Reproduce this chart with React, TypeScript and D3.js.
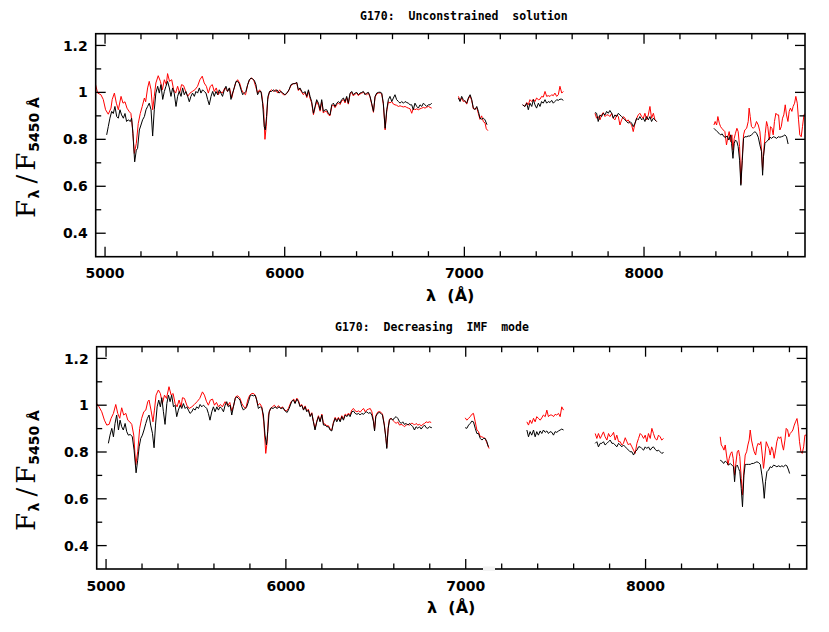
import * as d3 from 'd3'
import { useEffect, useRef } from 'react'

type Pt = [number, number]

const topObserved: Pt[][] = [
  [[5009,0.819],[5018,0.854],[5027,0.89],[5037,0.919],[5046,0.91],[5055,0.94],[5065,0.897],[5074,0.89],[5083,0.926],[5092,0.904],[5102,0.89],[5111,0.91],[5120,0.876],[5129,0.883],[5141,0.876],[5148,0.89],[5155,0.826],[5165,0.704],[5174,0.754],[5181,0.761],[5191,0.84],[5200,0.861],[5209,0.883],[5219,0.897],[5228,0.926],[5237,0.94],[5246,0.954],[5256,0.926],[5265,0.814],[5274,0.926],[5283,0.997],[5293,1.026],[5302,0.997],[5311,1.033],[5321,0.97],[5330,1.004],[5339,1.026],[5348,1.047],[5358,1.019],[5367,0.983],[5376,1.019],[5385,0.997],[5395,0.94],[5404,0.983],[5413,1.004],[5423,0.983],[5432,1.019],[5441,0.99],[5450,1.004],[5460,0.983],[5469,0.96],[5478,0.983],[5487,0.997],[5497,0.983],[5506,1.004],[5515,0.997],[5525,1.019],[5534,0.997],[5543,1.011],[5552,1.004],[5562,0.997],[5571,0.97],[5580,0.947],[5590,0.983],[5599,1.004],[5608,0.983],[5617,1.004],[5627,0.99],[5636,1.011],[5645,0.997],[5654,0.983],[5664,1.011],[5673,1.026],[5682,1.004],[5692,1.019],[5701,0.97],[5710,0.997],[5719,1.019],[5729,1.047],[5738,1.047],[5747,1.037],[5757,1.011],[5766,0.99],[5775,0.997],[5784,1.004],[5794,1.033],[5803,1.054],[5812,1.061],[5821,1.057],[5831,1.051],[5840,1.033],[5849,0.99],[5859,1.004],[5868,1.004],[5877,0.954],[5886,0.854],[5892,0.84],[5899,0.897],[5907,0.983],[5916,1.004],[5927,1.004],[5936,1.011],[5946,1.004],[5957,1.011],[5968,0.997],[5979,1.004],[5990,0.997],[6001,0.99],[6012,0.997],[6024,1.011],[6035,1.033],[6046,1.037],[6058,1.037],[6067,1.043],[6076,1.011],[6085,1.019],[6095,1.004],[6104,0.997],[6113,1.004],[6123,0.983],[6132,1.011],[6141,0.983],[6150,0.961],[6160,0.911],[6169,0.94],[6178,0.969],[6188,0.954],[6197,0.926],[6206,0.969],[6215,0.919],[6225,0.926],[6234,0.926],[6243,0.911],[6252,0.904],[6262,0.947],[6271,0.954],[6280,0.94],[6290,0.954],[6299,0.961],[6308,0.954],[6317,0.969],[6327,0.976],[6336,0.961],[6345,0.983],[6354,0.954],[6364,0.997],[6373,1.004],[6382,0.99],[6392,0.997],[6401,1.0],[6410,0.99],[6419,0.997],[6429,1.0],[6438,1.004],[6447,0.99],[6456,0.997],[6466,1.0],[6475,0.983],[6484,0.954],[6494,0.919],[6503,0.983],[6512,0.997],[6521,1.0],[6531,1.001],[6540,0.997],[6549,0.954],[6559,0.847],[6568,0.926],[6577,0.969],[6586,0.983],[6596,0.961],[6605,0.976],[6614,0.99],[6623,0.969],[6633,0.961],[6642,0.954],[6651,0.961],[6661,0.954],[6670,0.961],[6679,0.957],[6688,0.954],[6698,0.947],[6707,0.947],[6716,0.926],[6725,0.954],[6735,0.94],[6744,0.933],[6753,0.947],[6763,0.94],[6772,0.954],[6781,0.947],[6790,0.94],[6800,0.947],[6809,0.947],[6818,0.954]],
  [[6967,0.976],[6976,0.961],[6985,0.983],[6994,0.969],[7004,0.961],[7013,0.954],[7022,0.976],[7032,0.99],[7041,0.969],[7050,0.933],[7059,0.926],[7069,0.94],[7078,0.919],[7087,0.89],[7096,0.886],[7106,0.89],[7115,0.883],[7126,0.862]],
  [[7324,0.947],[7337,0.94],[7347,0.954],[7356,0.926],[7365,0.954],[7375,0.94],[7384,0.969],[7393,0.947],[7402,0.933],[7412,0.954],[7421,0.94],[7430,0.961],[7439,0.954],[7449,0.969],[7458,0.954],[7467,0.961],[7477,0.957],[7486,0.966],[7495,0.954],[7504,0.961],[7514,0.969],[7523,0.966],[7532,0.971],[7542,0.971],[7551,0.966]],
  [[7727,0.914],[7736,0.911],[7745,0.876],[7755,0.904],[7764,0.897],[7773,0.911],[7783,0.904],[7792,0.919],[7801,0.911],[7810,0.923],[7820,0.911],[7829,0.89],[7838,0.904],[7848,0.897],[7857,0.911],[7866,0.904],[7875,0.897],[7885,0.89],[7894,0.883],[7903,0.876],[7912,0.869],[7922,0.876],[7931,0.869],[7940,0.854],[7950,0.869],[7959,0.89],[7968,0.883],[7977,0.897],[7987,0.883],[7996,0.89],[8005,0.876],[8014,0.897],[8024,0.883],[8033,0.897],[8042,0.876],[8052,0.89],[8061,0.883],[8070,0.876]],
  [[8389,0.847],[8398,0.84],[8407,0.833],[8417,0.826],[8426,0.819],[8435,0.823],[8445,0.811],[8454,0.809],[8463,0.814],[8472,0.797],[8482,0.819],[8487,0.783],[8495,0.719],[8502,0.783],[8509,0.797],[8517,0.79],[8524,0.769],[8532,0.711],[8539,0.604],[8547,0.711],[8554,0.804],[8561,0.811],[8571,0.811],[8580,0.814],[8589,0.814],[8598,0.819],[8608,0.826],[8617,0.833],[8626,0.826],[8636,0.809],[8645,0.776],[8654,0.747],[8660,0.647],[8665,0.726],[8673,0.783],[8682,0.79],[8691,0.797],[8701,0.809],[8710,0.804],[8719,0.811],[8728,0.809],[8738,0.804],[8747,0.811],[8756,0.809],[8765,0.811],[8775,0.814],[8784,0.819],[8793,0.811],[8802,0.78]],
]

const topModel: Pt[][] = [
  [[4944,1.043],[4959,0.997],[4977,0.99],[4990,0.97],[5003,0.926],[5018,0.907],[5033,0.933],[5040,0.97],[5052,0.997],[5063,0.954],[5074,0.926],[5089,0.983],[5100,0.954],[5111,0.96],[5122,0.933],[5133,0.92],[5144,0.91],[5154,0.84],[5163,0.74],[5174,0.783],[5185,0.868],[5196,0.91],[5207,0.94],[5219,0.976],[5226,0.96],[5237,1.019],[5246,1.047],[5256,1.011],[5265,0.926],[5274,0.983],[5283,1.04],[5296,1.071],[5308,1.047],[5319,1.011],[5330,1.054],[5341,1.033],[5348,1.08],[5359,1.047],[5371,1.054],[5382,1.011],[5393,0.997],[5404,1.026],[5415,0.997],[5426,1.033],[5437,1.029],[5449,1.004],[5460,0.983],[5473,0.997],[5486,1.004],[5500,1.011],[5515,1.026],[5528,1.054],[5541,1.069],[5552,1.04],[5564,1.026],[5575,0.997],[5586,1.026],[5597,1.033],[5608,1.004],[5619,1.019],[5630,0.99],[5641,1.004],[5653,0.997],[5667,1.019],[5682,1.004],[5693,1.019],[5705,0.976],[5716,1.011],[5727,1.04],[5738,1.054],[5749,1.04],[5760,1.011],[5771,0.997],[5782,0.99],[5794,1.033],[5805,1.054],[5816,1.061],[5827,1.054],[5838,1.026],[5849,0.997],[5860,1.011],[5871,0.997],[5883,0.926],[5890,0.8],[5897,0.854],[5905,0.97],[5916,1.004],[5927,1.011],[5938,1.004],[5949,1.011],[5961,0.997],[5972,1.011],[5983,0.997],[5994,0.99],[6005,0.99],[6020,1.004],[6035,1.029],[6048,1.037],[6067,1.04],[6076,1.008],[6085,1.015],[6095,1.0],[6104,0.99],[6113,1.0],[6123,0.978],[6132,1.005],[6141,0.975],[6150,0.955],[6160,0.905],[6169,0.935],[6178,0.962],[6188,0.945],[6197,0.92],[6206,0.96],[6215,0.912],[6225,0.92],[6234,0.918],[6243,0.905],[6252,0.9],[6262,0.94],[6271,0.947],[6280,0.935],[6290,0.948],[6299,0.955],[6308,0.948],[6317,0.963],[6327,0.97],[6336,0.955],[6345,0.978],[6354,0.95],[6364,0.992],[6373,1.0],[6382,0.985],[6392,0.993],[6401,0.997],[6410,0.986],[6419,0.993],[6429,0.997],[6438,1.0],[6456,0.99],[6466,0.997],[6475,0.98],[6484,0.95],[6494,0.915],[6503,0.98],[6512,0.993],[6521,0.997],[6531,0.998],[6540,0.993],[6549,0.95],[6559,0.84],[6568,0.92],[6577,0.96],[6586,0.955],[6596,0.961],[6605,0.95],[6614,0.947],[6623,0.945],[6633,0.94],[6642,0.943],[6651,0.94],[6661,0.938],[6670,0.94],[6679,0.936],[6688,0.933],[6698,0.93],[6707,0.911],[6716,0.933],[6725,0.926],[6735,0.93],[6744,0.926],[6753,0.93],[6763,0.933],[6772,0.936],[6781,0.933],[6790,0.937],[6800,0.94],[6809,0.936],[6818,0.933]],
  [[6967,0.983],[6976,0.965],[6985,0.976],[6994,0.961],[7004,0.965],[7013,0.95],[7022,0.972],[7032,0.985],[7041,0.965],[7050,0.93],[7059,0.93],[7069,0.935],[7078,0.91],[7087,0.885],[7096,0.9],[7106,0.875],[7115,0.87],[7122,0.845],[7131,0.837]],
  [[7324,0.947],[7337,0.94],[7347,0.957],[7356,0.947],[7365,0.969],[7375,0.961],[7384,0.971],[7393,0.961],[7402,0.976],[7412,0.969],[7421,0.971],[7430,0.983],[7439,0.98],[7449,1.004],[7458,0.983],[7467,0.986],[7477,0.983],[7486,0.99],[7495,0.986],[7504,0.997],[7514,0.983],[7523,0.99],[7532,1.026],[7542,0.997],[7551,1.004]],
  [[7727,0.911],[7736,0.89],[7745,0.897],[7755,0.883],[7764,0.904],[7773,0.914],[7783,0.897],[7792,0.904],[7801,0.904],[7810,0.897],[7820,0.911],[7829,0.89],[7838,0.883],[7848,0.904],[7857,0.897],[7866,0.861],[7875,0.883],[7885,0.897],[7894,0.89],[7903,0.876],[7912,0.883],[7922,0.869],[7931,0.861],[7940,0.833],[7950,0.869],[7959,0.89],[7968,0.904],[7977,0.911],[7987,0.897],[7996,0.89],[8005,0.911],[8014,0.883],[8024,0.904],[8033,0.94],[8042,0.89],[8052,0.911],[8061,0.883],[8070,0.876]],
  [[8389,0.861],[8396,0.876],[8404,0.861],[8411,0.897],[8419,0.869],[8426,0.854],[8433,0.847],[8441,0.84],[8450,0.833],[8459,0.776],[8467,0.811],[8474,0.833],[8482,0.79],[8489,0.819],[8495,0.754],[8502,0.804],[8509,0.826],[8517,0.847],[8524,0.833],[8532,0.769],[8539,0.611],[8547,0.726],[8554,0.819],[8561,0.84],[8571,0.847],[8580,0.876],[8585,0.933],[8591,0.897],[8598,0.854],[8608,0.847],[8617,0.854],[8626,0.876],[8636,0.861],[8645,0.833],[8654,0.754],[8660,0.669],[8667,0.754],[8675,0.826],[8682,0.876],[8689,0.854],[8697,0.797],[8704,0.854],[8712,0.847],[8719,0.819],[8726,0.876],[8734,0.911],[8741,0.904],[8749,0.904],[8756,0.84],[8764,0.854],[8771,0.89],[8778,0.904],[8786,0.947],[8793,0.904],[8801,0.876],[8808,0.919],[8815,0.933],[8823,0.919],[8830,0.94],[8838,0.954],[8845,0.983],[8853,0.954],[8860,0.883],[8867,0.819],[8875,0.811],[8882,0.854],[8890,0.904],[8898,0.911]],
]

const bottomObserved: Pt[][] = [
  [[5013,0.837],[5022,0.872],[5032,0.901],[5041,0.865],[5050,0.922],[5059,0.958],[5069,0.894],[5078,0.936],[5087,0.908],[5096,0.894],[5106,0.922],[5115,0.887],[5124,0.872],[5135,0.875],[5146,0.865],[5156,0.808],[5167,0.711],[5176,0.765],[5184,0.822],[5193,0.858],[5202,0.872],[5211,0.894],[5221,0.922],[5230,0.944],[5239,0.958],[5248,0.915],[5258,0.88],[5267,0.818],[5275,0.915],[5284,0.993],[5293,1.022],[5302,0.993],[5310,1.032],[5319,0.972],[5328,0.918],[5338,1.007],[5347,1.043],[5356,1.015],[5365,1.043],[5375,0.993],[5384,1.0],[5393,0.951],[5402,0.979],[5412,1.0],[5421,0.986],[5430,1.007],[5440,0.986],[5449,0.993],[5458,0.979],[5467,0.965],[5477,0.972],[5486,0.986],[5495,0.979],[5504,0.993],[5514,0.986],[5523,1.003],[5532,0.993],[5541,1.0],[5551,0.993],[5560,0.986],[5569,0.965],[5578,0.936],[5588,0.972],[5597,0.993],[5606,0.972],[5616,0.993],[5625,0.979],[5634,0.993],[5643,0.986],[5653,0.972],[5662,1.0],[5671,1.015],[5680,0.993],[5690,1.0],[5699,0.958],[5708,0.993],[5718,1.029],[5727,1.036],[5736,1.029],[5745,1.022],[5755,0.993],[5764,0.979],[5773,0.986],[5782,0.993],[5792,1.015],[5801,1.04],[5810,1.043],[5820,1.04],[5829,1.043],[5838,1.022],[5847,0.986],[5857,0.993],[5866,0.989],[5875,0.958],[5884,0.872],[5892,0.83],[5899,0.887],[5907,0.972],[5918,0.989],[5929,0.986],[5940,0.993],[5951,0.986],[5962,0.993],[5973,0.986],[5985,0.989],[5996,0.975],[6007,0.969],[6018,0.986],[6033,1.017],[6042,1.022],[6051,1.007],[6061,1.026],[6070,1.015],[6079,0.993],[6088,1.0],[6098,0.979],[6107,0.993],[6116,0.972],[6125,0.979],[6135,0.951],[6144,0.965],[6153,0.929],[6162,0.894],[6172,0.929],[6181,0.951],[6190,0.929],[6200,0.958],[6209,0.915],[6218,0.915],[6227,0.908],[6237,0.908],[6246,0.894],[6255,0.89],[6264,0.922],[6274,0.944],[6283,0.929],[6292,0.944],[6302,0.929],[6311,0.951],[6320,0.936],[6330,0.958],[6339,0.951],[6348,0.961],[6357,0.951],[6367,0.972],[6376,0.975],[6385,0.965],[6395,0.961],[6404,0.965],[6413,0.958],[6422,0.965],[6432,0.961],[6441,0.969],[6450,0.972],[6459,0.965],[6469,0.969],[6478,0.958],[6487,0.929],[6493,0.89],[6500,0.951],[6510,0.965],[6519,0.969],[6528,0.965],[6537,0.958],[6547,0.915],[6556,0.858],[6561,0.815],[6569,0.901],[6576,0.936],[6585,0.944],[6594,0.936],[6604,0.946],[6613,0.951],[6622,0.944],[6632,0.929],[6641,0.922],[6650,0.929],[6659,0.918],[6669,0.922],[6678,0.915],[6687,0.922],[6697,0.915],[6706,0.908],[6715,0.894],[6724,0.908],[6734,0.901],[6743,0.908],[6752,0.898],[6762,0.908],[6771,0.915],[6780,0.904],[6789,0.901],[6799,0.908],[6808,0.904],[6812,0.905]],
  [[6997,0.904],[7006,0.901],[7016,0.915],[7025,0.922],[7034,0.932],[7043,0.929],[7053,0.901],[7062,0.879],[7071,0.879],[7081,0.858],[7090,0.851],[7099,0.858],[7108,0.858],[7117,0.845],[7126,0.822]],
  [[7340,0.894],[7349,0.865],[7358,0.887],[7367,0.872],[7377,0.894],[7386,0.865],[7395,0.887],[7404,0.872],[7414,0.89],[7423,0.879],[7432,0.894],[7442,0.884],[7451,0.89],[7460,0.879],[7469,0.887],[7479,0.884],[7488,0.872],[7497,0.887],[7506,0.884],[7516,0.89],[7525,0.894],[7534,0.898],[7544,0.894]],
  [[7720,0.837],[7729,0.844],[7738,0.822],[7748,0.837],[7757,0.837],[7766,0.844],[7775,0.83],[7785,0.837],[7794,0.844],[7803,0.851],[7813,0.837],[7822,0.837],[7831,0.83],[7840,0.822],[7850,0.837],[7859,0.83],[7868,0.822],[7877,0.83],[7887,0.822],[7896,0.815],[7905,0.808],[7914,0.801],[7924,0.801],[7933,0.787],[7942,0.801],[7952,0.808],[7961,0.822],[7970,0.822],[7979,0.815],[7989,0.808],[7998,0.822],[8007,0.815],[8016,0.822],[8026,0.808],[8035,0.818],[8044,0.822],[8053,0.812],[8063,0.804],[8072,0.808],[8081,0.801],[8090,0.794],[8100,0.798]],
  [[8415,0.765],[8424,0.761],[8434,0.751],[8443,0.761],[8452,0.755],[8461,0.744],[8471,0.751],[8480,0.744],[8489,0.737],[8495,0.673],[8502,0.737],[8510,0.744],[8517,0.73],[8524,0.716],[8532,0.644],[8539,0.566],[8547,0.701],[8554,0.747],[8563,0.747],[8573,0.747],[8582,0.747],[8591,0.751],[8600,0.751],[8610,0.755],[8619,0.758],[8628,0.755],[8638,0.747],[8647,0.701],[8654,0.659],[8660,0.602],[8667,0.673],[8675,0.716],[8684,0.723],[8693,0.737],[8702,0.733],[8712,0.744],[8721,0.741],[8730,0.737],[8740,0.741],[8749,0.737],[8758,0.741],[8767,0.737],[8777,0.744],[8786,0.741],[8795,0.723],[8801,0.708]],
]

const bottomModel: Pt[][] = [
  [[4939,1.057],[4948,1.007],[4961,0.993],[4976,0.972],[4991,0.936],[5004,0.915],[5017,0.918],[5028,0.944],[5041,0.965],[5054,1.003],[5065,0.965],[5076,0.944],[5087,0.989],[5098,0.958],[5110,0.965],[5121,0.936],[5132,0.929],[5143,0.918],[5154,0.872],[5165,0.744],[5176,0.801],[5187,0.901],[5198,0.944],[5210,0.972],[5221,0.979],[5232,1.015],[5239,1.022],[5250,0.979],[5261,0.929],[5269,0.979],[5278,1.043],[5291,1.065],[5302,1.05],[5313,1.007],[5325,1.043],[5336,1.029],[5350,1.079],[5362,1.043],[5373,1.05],[5384,1.007],[5395,0.993],[5406,1.022],[5417,0.993],[5425,1.032],[5436,1.029],[5449,1.0],[5462,0.986],[5477,0.993],[5491,1.003],[5506,1.015],[5521,1.029],[5536,1.057],[5547,1.043],[5558,1.017],[5569,1.0],[5580,1.022],[5592,1.026],[5603,1.0],[5614,1.012],[5625,0.993],[5636,1.003],[5647,0.993],[5662,1.015],[5677,0.998],[5688,1.012],[5699,0.975],[5710,1.0],[5721,1.036],[5732,1.04],[5743,1.032],[5755,1.007],[5766,0.993],[5777,0.986],[5788,1.022],[5799,1.043],[5810,1.05],[5821,1.05],[5833,1.036],[5844,1.0],[5855,1.007],[5866,0.993],[5877,0.929],[5888,0.794],[5896,0.844],[5903,0.958],[5914,0.986],[5925,0.993],[5936,1.0],[5947,0.989],[5959,0.998],[5970,0.986],[5981,0.993],[5992,0.979],[6003,0.975],[6014,0.986],[6029,1.015],[6044,1.026],[6051,1.01],[6061,1.03],[6070,1.02],[6079,0.997],[6088,1.003],[6098,0.983],[6107,0.997],[6116,0.975],[6125,0.983],[6135,0.955],[6144,0.968],[6153,0.932],[6162,0.9],[6172,0.932],[6181,0.955],[6190,0.932],[6200,0.962],[6209,0.92],[6218,0.92],[6227,0.912],[6237,0.912],[6246,0.898],[6255,0.893],[6264,0.926],[6274,0.948],[6283,0.935],[6292,0.948],[6302,0.935],[6311,0.955],[6320,0.942],[6330,0.962],[6339,0.956],[6348,0.966],[6357,0.958],[6367,0.98],[6376,0.986],[6385,0.976],[6395,0.972],[6404,0.976],[6413,0.97],[6422,0.979],[6432,0.986],[6441,0.972],[6450,0.98],[6459,0.983],[6469,0.986],[6478,0.972],[6487,0.935],[6493,0.895],[6500,0.955],[6510,0.97],[6519,0.973],[6528,0.97],[6537,0.962],[6547,0.92],[6556,0.862],[6561,0.82],[6569,0.905],[6576,0.94],[6585,0.944],[6594,0.936],[6604,0.929],[6613,0.922],[6622,0.929],[6632,0.915],[6641,0.918],[6650,0.915],[6659,0.908],[6669,0.915],[6678,0.918],[6687,0.915],[6697,0.922],[6706,0.922],[6715,0.915],[6724,0.922],[6734,0.915],[6743,0.918],[6752,0.912],[6762,0.918],[6771,0.922],[6780,0.929],[6789,0.926],[6799,0.929],[6808,0.926]],
  [[6997,0.946],[7006,0.936],[7016,0.944],[7025,0.951],[7034,0.961],[7043,0.965],[7053,0.929],[7062,0.894],[7071,0.887],[7081,0.865],[7090,0.865],[7099,0.861],[7108,0.858],[7117,0.84],[7130,0.815]],
  [[7340,0.929],[7349,0.915],[7358,0.936],[7367,0.922],[7377,0.944],[7386,0.929],[7395,0.951],[7404,0.944],[7414,0.936],[7423,0.946],[7432,0.958],[7442,0.951],[7451,0.979],[7460,0.951],[7469,0.958],[7479,0.958],[7488,0.951],[7497,0.961],[7506,0.958],[7516,0.965],[7525,0.951],[7534,0.993],[7544,0.979]],
  [[7720,0.879],[7729,0.858],[7738,0.879],[7748,0.858],[7757,0.872],[7766,0.886],[7775,0.865],[7785,0.851],[7794,0.879],[7803,0.865],[7813,0.872],[7822,0.884],[7831,0.851],[7840,0.872],[7850,0.844],[7859,0.844],[7868,0.83],[7877,0.837],[7887,0.861],[7896,0.844],[7905,0.83],[7914,0.837],[7924,0.822],[7933,0.808],[7942,0.794],[7952,0.837],[7961,0.858],[7970,0.879],[7979,0.872],[7989,0.858],[7998,0.872],[8007,0.844],[8016,0.879],[8026,0.858],[8035,0.901],[8044,0.879],[8053,0.858],[8063,0.851],[8072,0.872],[8081,0.865],[8090,0.851],[8100,0.858]],
  [[8415,0.865],[8421,0.83],[8428,0.822],[8436,0.808],[8443,0.83],[8450,0.787],[8458,0.744],[8465,0.773],[8473,0.794],[8480,0.801],[8487,0.773],[8495,0.701],[8502,0.751],[8510,0.801],[8517,0.808],[8524,0.78],[8532,0.687],[8539,0.616],[8547,0.723],[8554,0.787],[8562,0.801],[8569,0.83],[8576,0.851],[8582,0.894],[8589,0.851],[8597,0.822],[8604,0.801],[8612,0.787],[8619,0.822],[8626,0.837],[8634,0.83],[8641,0.844],[8649,0.787],[8656,0.73],[8664,0.787],[8671,0.844],[8678,0.83],[8686,0.815],[8693,0.787],[8701,0.822],[8708,0.808],[8715,0.773],[8723,0.808],[8730,0.844],[8738,0.865],[8745,0.858],[8752,0.865],[8760,0.83],[8767,0.808],[8775,0.851],[8782,0.901],[8790,0.894],[8797,0.865],[8804,0.879],[8812,0.886],[8819,0.894],[8827,0.915],[8834,0.929],[8842,0.943],[8849,0.908],[8856,0.844],[8864,0.801],[8871,0.794],[8879,0.822],[8886,0.872],[8893,0.872],[8900,0.869]],
]

const panelTitles = ['G170:  Unconstrained  solution', 'G170:  Decreasing  IMF  mode']
const xMajorTicks = [5000, 6000, 7000, 8000]
const yMajorTicks = [0.4, 0.6, 0.8, 1, 1.2]
const xDomain: [number, number] = [4948, 8896]
const yDomain: [number, number] = [0.3, 1.25]

const layout = [
  { left: 95.7, top: 33.7, width: 709.3, height: 223, titleX: 360, titleY: 20 },
  { left: 96.7, top: 346.7, width: 710, height: 222.3, titleX: 335, titleY: 331 },
]

const tickFont = '"DejaVu Sans", sans-serif'

export default function App() {
  const svgRef = useRef<SVGSVGElement>(null)

  useEffect(() => {
    const svg = d3.select(svgRef.current)
    svg.selectAll('*').remove()
    const series = [
      { observed: topObserved, model: topModel },
      { observed: bottomObserved, model: bottomModel },
    ]

    layout.forEach((p, i) => {
      const x = d3.scaleLinear().domain(xDomain).range([p.left, p.left + p.width])
      const y = d3.scaleLinear().domain(yDomain).range([p.top + p.height, p.top])
      const bottom = p.top + p.height
      const right = p.left + p.width

      svg.append('clipPath').attr('id', 'clip' + i)
        .append('rect')
        .attr('x', p.left).attr('y', p.top)
        .attr('width', p.width).attr('height', p.height)

      const line = d3.line<Pt>().x(d => x(d[0])).y(d => y(d[1]))
      const g = svg.append('g').attr('clip-path', `url(#clip${i})`)
      series[i].model.forEach(seg => {
        g.append('path').attr('d', line(seg)).attr('fill', 'none')
          .attr('stroke', '#ff0000').attr('stroke-width', 1)
      })
      series[i].observed.forEach(seg => {
        g.append('path').attr('d', line(seg)).attr('fill', 'none')
          .attr('stroke', '#000').attr('stroke-width', 1)
      })

      // frame
      svg.append('rect')
        .attr('x', p.left).attr('y', p.top)
        .attr('width', p.width).attr('height', p.height)
        .attr('fill', 'none').attr('stroke', '#000').attr('stroke-width', 1.6)

      // ticks, inward on all four sides
      const tg = svg.append('g').attr('stroke', '#000').attr('stroke-width', 1.3)
      const xMinor = d3.range(5000, 8900, 200)
      xMinor.forEach(v => {
        const len = xMajorTicks.includes(v) ? 10 : 5.5
        tg.append('line').attr('x1', x(v)).attr('x2', x(v)).attr('y1', bottom).attr('y2', bottom - len)
        tg.append('line').attr('x1', x(v)).attr('x2', x(v)).attr('y1', p.top).attr('y2', p.top + len)
      })
      const yMinor = d3.range(4, 13).map(k => k / 10)
      yMinor.forEach(v => {
        const len = yMajorTicks.some(m => Math.abs(m - v) < 1e-6) ? 10 : 5.5
        tg.append('line').attr('x1', p.left).attr('x2', p.left + len).attr('y1', y(v)).attr('y2', y(v))
        tg.append('line').attr('x1', right).attr('x2', right - len).attr('y1', y(v)).attr('y2', y(v))
      })

      // tick labels
      xMajorTicks.forEach(v => {
        svg.append('text')
          .attr('x', x(v)).attr('y', bottom + 21.6)
          .attr('text-anchor', 'middle')
          .style('font-family', tickFont).style('font-weight', 'bold').style('font-size', '14px')
          .text(String(v))
      })
      yMajorTicks.forEach(v => {
        svg.append('text')
          .attr('x', p.left - 8).attr('y', y(v) + 5.1)
          .attr('text-anchor', 'end')
          .style('font-family', tickFont).style('font-weight', 'bold').style('font-size', '14px')
          .text(v === 1 ? '1' : d3.format('.1f')(v))
      })

      // title
      svg.append('text')
        .attr('x', p.titleX).attr('y', p.titleY)
        .style('white-space', 'pre')
        .style('font-family', '"DejaVu Sans Mono", monospace').style('font-weight', 'bold').style('font-size', '11.5px')
        .text(panelTitles[i])

      // x label
      svg.append('text')
        .attr('x', p.left + 354.5).attr('y', bottom + 44.3)
        .attr('text-anchor', 'middle')
        .style('white-space', 'pre')
        .style('font-family', tickFont).style('font-weight', 'bold').style('font-size', '16px')
        .text('λ  (Å)')

      // y label
      const yl = svg.append('text')
        .attr('transform', `translate(35,${p.top + 184.3}) rotate(-90)`)
        .style('font-family', '"DejaVu Serif", serif').style('font-size', '26px')
      yl.append('tspan').text('F')
      yl.append('tspan').attr('dx', 1.5).attr('dy', 4)
        .style('font-family', tickFont).style('font-weight', 'bold').style('font-size', '14px').text('λ')
      yl.append('tspan').attr('dx', 6).attr('dy', -4).text('/')
      yl.append('tspan').attr('dx', 4).text('F')
      yl.append('tspan').attr('dx', 1).attr('dy', 4)
        .style('white-space', 'pre')
        .style('font-family', tickFont).style('font-weight', 'bold').style('font-size', '14px').text('5450 Å')
    })

    // small blank patch over the lower frame, as in the original
    svg.append('rect').attr('x', 483).attr('y', 566.5).attr('width', 12).attr('height', 4.5).attr('fill', '#f2f2f2')
  }, [])

  return (
    <div style={{ position: 'absolute', left: 0, top: 0 }}>
      <svg ref={svgRef} width={829} height={632} style={{ display: 'block', background: '#fff' }}></svg>
    </div>
  )
}
